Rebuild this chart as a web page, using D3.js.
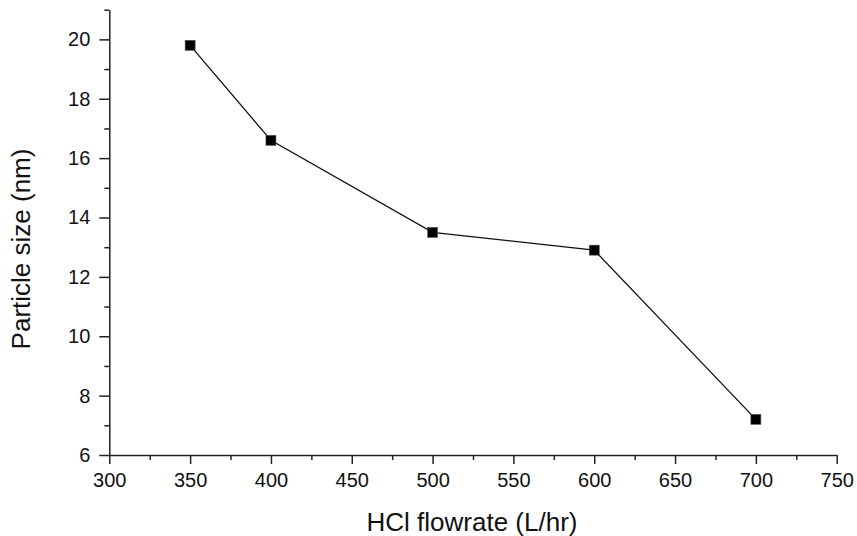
<!DOCTYPE html>
<meta charset="utf-8">
<style>
body { margin: 0; background: #fff; }
text { font-family: "Liberation Sans", Arial, sans-serif; fill: #111; }
.axis path, .axis line { stroke: #222; stroke-width: 1.5px; }
</style>
<body>
<svg width="857" height="536"></svg>
<script src="https://d3js.org/d3.v7.min.js"></script>
<script>

// data
var flowrate = [350, 400, 500, 600, 700]
var size = [19.8, 16.6, 13.5, 12.9, 7.2]
var xTicks = [300, 350, 400, 450, 500, 550, 600, 650, 700, 750]
var yTicks = [6, 8, 10, 12, 14, 16, 18, 20]

var svg = d3.select("svg")

var x = d3.scaleLinear().domain([300, 750]).range([109.3, 836.7])
var y = d3.scaleLinear().domain([6, 21]).range([455, 9.7])

// minor ticks
var xMinor = d3.range(325, 750, 50)
var yMinor = d3.range(7, 22, 2)

svg.append("g").attr("class", "axis")
    .attr("transform", "translate(0," + y(6) + ")")
    .call(d3.axisBottom(x).tickValues(xMinor).tickSize(5).tickFormat(""))
    .select(".domain").remove()

svg.append("g").attr("class", "axis")
    .attr("transform", "translate(" + x(300) + ",0)")
    .call(d3.axisLeft(y).tickValues(yMinor).tickSize(5).tickFormat(""))
    .select(".domain").remove()

var gx = svg.append("g").attr("class", "axis")
    .attr("transform", "translate(0," + y(6) + ")")
    .call(d3.axisBottom(x).tickValues(xTicks).tickSize(9).tickSizeOuter(0).tickPadding(9))
gx.selectAll("text").attr("font-size", 20).attr("fill", "#111")

var gy = svg.append("g").attr("class", "axis")
    .attr("transform", "translate(" + x(300) + ",0)")
    .call(d3.axisLeft(y).tickValues(yTicks).tickSize(10).tickSizeOuter(0).tickPadding(9))
gy.selectAll("text").attr("font-size", 20).attr("fill", "#111")

var pts = flowrate.map((d, i) => [d, size[i]])

svg.append("path")
    .datum(pts)
    .attr("fill", "none")
    .attr("stroke", "#111")
    .attr("stroke-width", 1.3)
    .attr("d", d3.line().x(d => x(d[0])).y(d => y(d[1])))

svg.selectAll(".pt")
    .data(pts)
    .enter().append("rect")
      .attr("class", "pt")
      .attr("x", d => x(d[0]) - 5)
      .attr("y", d => y(d[1]) - 5)
      .attr("width", 10)
      .attr("height", 10)
      .attr("fill", "#000")
      .attr("stroke", "#555")
      .attr("stroke-width", 0.6)

svg.append("text")
    .attr("x", 472)
    .attr("y", 531)
    .attr("text-anchor", "middle")
    .attr("font-size", 26)
    .text("HCl flowrate (L/hr)")

svg.append("text")
    .attr("transform", "translate(30,249) rotate(-90)")
    .attr("text-anchor", "middle")
    .attr("font-size", 26)
    .text("Particle size (nm)")

</script>
</body>
